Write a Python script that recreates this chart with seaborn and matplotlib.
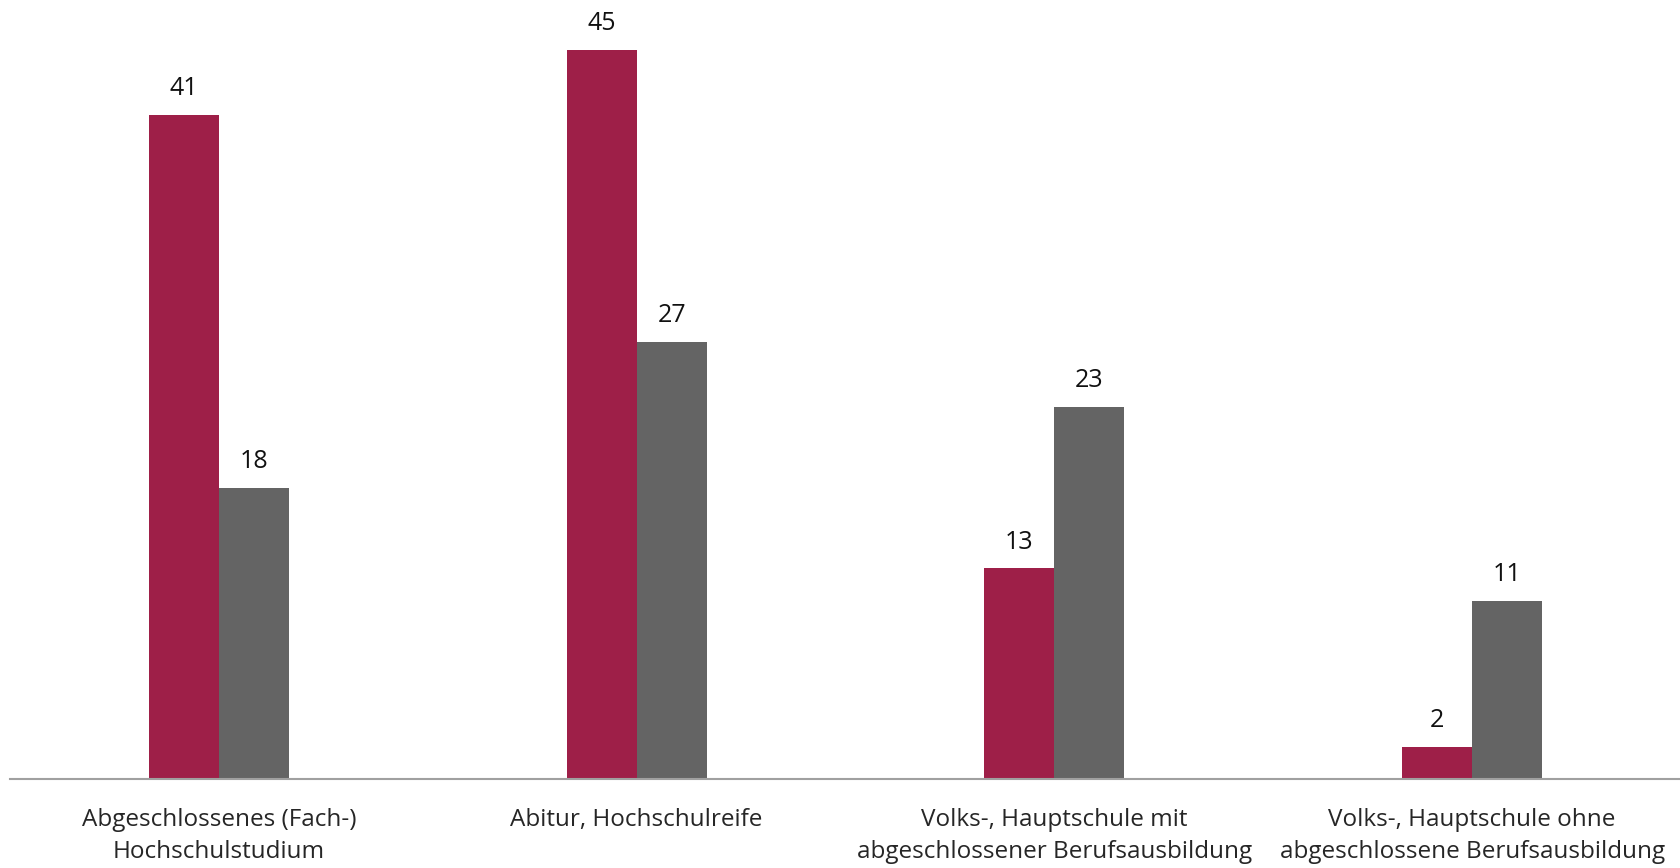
import pandas as pd
import matplotlib.pyplot as plt
import seaborn as sns

# === Data ===
categories = [
    "Abgeschlossenes (Fach-)\nHochschulstudium",
    "Abitur, Hochschulreife",
    "Volks-, Hauptschule mit\nabgeschlossener Berufsausbildung",
    "Volks-, Hauptschule ohne\nabgeschlossene Berufsausbildung",
]
series_names = ["Gruppe A", "Gruppe B"]
values_a = [41, 45, 13, 2]
values_b = [18, 27, 23, 11]

df = pd.DataFrame({
    "Kategorie": categories * 2,
    "Serie": [series_names[0]] * 4 + [series_names[1]] * 4,
    "Wert": values_a + values_b,
})

sns.set_style("white")
plt.rcParams["font.family"] = ["Open Sans", "DejaVu Sans"]

fig = plt.figure(figsize=(16.81, 8.68), dpi=100)
ax = fig.add_axes([0.006, 0.1025, 0.994, 0.8975])

sns.barplot(data=df, x="Kategorie", y="Wert", hue="Serie",
            palette=["#9E1F48", "#646464"], width=0.335,
            saturation=1, linewidth=0, legend=False, ax=ax)

for container in ax.containers:
    ax.bar_label(container, padding=10, fontsize=18, color="#111111")

ax.set_ylim(0, 48.1)
ax.set_xlim(-0.5, 3.5)
ax.set_xlabel("")
ax.set_ylabel("")
ax.set_yticks([])
ax.tick_params(axis="x", length=0, pad=21, labelsize=17.5)
for lbl in ax.get_xticklabels():
    lbl.set_linespacing(1.45)
for side in ["top", "right", "left"]:
    ax.spines[side].set_visible(False)
ax.spines["bottom"].set_color("#a0a0a0")
ax.spines["bottom"].set_linewidth(1.5)

fig.savefig("out.png", dpi=100)
